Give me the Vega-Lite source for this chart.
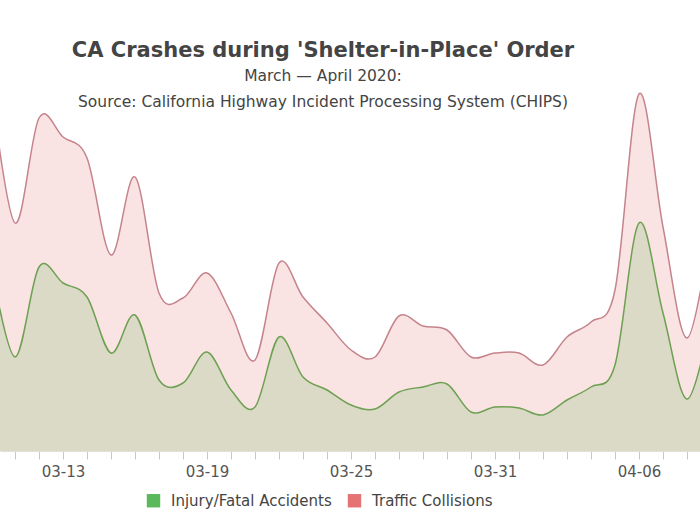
{
  "$schema": "https://vega.github.io/schema/vega-lite/v6.json",
  "autosize": {"type": "none"},
  "width": 700,
  "height": 330,
  "padding": {"top": 121, "left": 0, "right": 0, "bottom": 74},
  "background": "white",
  "title": {
    "text": "CA Crashes during 'Shelter-in-Place' Order",
    "subtitle": ["March — April 2020:", "Source: California Highway Incident Processing System (CHIPS)"],
    "anchor": "middle",
    "frame": "group",
    "dx": -27,
    "offset": -27,
    "font": "DejaVu Sans",
    "fontSize": 21,
    "fontWeight": "bold",
    "color": "#444444",
    "subtitleFont": "DejaVu Sans",
    "subtitleFontSize": 15.5,
    "subtitleColor": "#444444",
    "subtitleLineHeight": 26,
    "subtitlePadding": 8
  },
  "data": {
    "values": [
      {"date": "2020-03-10", "series": "Traffic Collisions", "value": 730},
      {"date": "2020-03-11", "series": "Traffic Collisions", "value": 456},
      {"date": "2020-03-12", "series": "Traffic Collisions", "value": 666},
      {"date": "2020-03-13", "series": "Traffic Collisions", "value": 628},
      {"date": "2020-03-14", "series": "Traffic Collisions", "value": 586},
      {"date": "2020-03-15", "series": "Traffic Collisions", "value": 392},
      {"date": "2020-03-16", "series": "Traffic Collisions", "value": 548},
      {"date": "2020-03-17", "series": "Traffic Collisions", "value": 316},
      {"date": "2020-03-18", "series": "Traffic Collisions", "value": 306},
      {"date": "2020-03-19", "series": "Traffic Collisions", "value": 356},
      {"date": "2020-03-20", "series": "Traffic Collisions", "value": 276},
      {"date": "2020-03-21", "series": "Traffic Collisions", "value": 182},
      {"date": "2020-03-22", "series": "Traffic Collisions", "value": 376},
      {"date": "2020-03-23", "series": "Traffic Collisions", "value": 308},
      {"date": "2020-03-24", "series": "Traffic Collisions", "value": 256},
      {"date": "2020-03-25", "series": "Traffic Collisions", "value": 202},
      {"date": "2020-03-26", "series": "Traffic Collisions", "value": 188},
      {"date": "2020-03-27", "series": "Traffic Collisions", "value": 270},
      {"date": "2020-03-28", "series": "Traffic Collisions", "value": 250},
      {"date": "2020-03-29", "series": "Traffic Collisions", "value": 242},
      {"date": "2020-03-30", "series": "Traffic Collisions", "value": 188},
      {"date": "2020-03-31", "series": "Traffic Collisions", "value": 196},
      {"date": "2020-04-01", "series": "Traffic Collisions", "value": 196},
      {"date": "2020-04-02", "series": "Traffic Collisions", "value": 172},
      {"date": "2020-04-03", "series": "Traffic Collisions", "value": 228},
      {"date": "2020-04-04", "series": "Traffic Collisions", "value": 258},
      {"date": "2020-04-05", "series": "Traffic Collisions", "value": 322},
      {"date": "2020-04-06", "series": "Traffic Collisions", "value": 714},
      {"date": "2020-04-07", "series": "Traffic Collisions", "value": 448},
      {"date": "2020-04-08", "series": "Traffic Collisions", "value": 226},
      {"date": "2020-04-09", "series": "Traffic Collisions", "value": 448},
      {"date": "2020-03-10", "series": "Injury/Fatal Accidents", "value": 375},
      {"date": "2020-03-11", "series": "Injury/Fatal Accidents", "value": 188},
      {"date": "2020-03-12", "series": "Injury/Fatal Accidents", "value": 368},
      {"date": "2020-03-13", "series": "Injury/Fatal Accidents", "value": 336},
      {"date": "2020-03-14", "series": "Injury/Fatal Accidents", "value": 308},
      {"date": "2020-03-15", "series": "Injury/Fatal Accidents", "value": 196},
      {"date": "2020-03-16", "series": "Injury/Fatal Accidents", "value": 272},
      {"date": "2020-03-17", "series": "Injury/Fatal Accidents", "value": 142},
      {"date": "2020-03-18", "series": "Injury/Fatal Accidents", "value": 136},
      {"date": "2020-03-19", "series": "Injury/Fatal Accidents", "value": 198},
      {"date": "2020-03-20", "series": "Injury/Fatal Accidents", "value": 122},
      {"date": "2020-03-21", "series": "Injury/Fatal Accidents", "value": 88},
      {"date": "2020-03-22", "series": "Injury/Fatal Accidents", "value": 228},
      {"date": "2020-03-23", "series": "Injury/Fatal Accidents", "value": 148},
      {"date": "2020-03-24", "series": "Injury/Fatal Accidents", "value": 122},
      {"date": "2020-03-25", "series": "Injury/Fatal Accidents", "value": 92},
      {"date": "2020-03-26", "series": "Injury/Fatal Accidents", "value": 84},
      {"date": "2020-03-27", "series": "Injury/Fatal Accidents", "value": 118},
      {"date": "2020-03-28", "series": "Injury/Fatal Accidents", "value": 128},
      {"date": "2020-03-29", "series": "Injury/Fatal Accidents", "value": 134},
      {"date": "2020-03-30", "series": "Injury/Fatal Accidents", "value": 78},
      {"date": "2020-03-31", "series": "Injury/Fatal Accidents", "value": 88},
      {"date": "2020-04-01", "series": "Injury/Fatal Accidents", "value": 86},
      {"date": "2020-04-02", "series": "Injury/Fatal Accidents", "value": 72},
      {"date": "2020-04-03", "series": "Injury/Fatal Accidents", "value": 102},
      {"date": "2020-04-04", "series": "Injury/Fatal Accidents", "value": 128},
      {"date": "2020-04-05", "series": "Injury/Fatal Accidents", "value": 172},
      {"date": "2020-04-06", "series": "Injury/Fatal Accidents", "value": 456},
      {"date": "2020-04-07", "series": "Injury/Fatal Accidents", "value": 276},
      {"date": "2020-04-08", "series": "Injury/Fatal Accidents", "value": 104},
      {"date": "2020-04-09", "series": "Injury/Fatal Accidents", "value": 266}
    ]
  },
  "encoding": {
    "x": {
      "field": "date",
      "type": "temporal",
      "title": null,
      "scale": {
        "type": "utc",
        "domain": [
          {"year": 2020, "month": 3, "date": 10, "hours": 9, "utc": true},
          {"year": 2020, "month": 4, "date": 8, "hours": 13, "utc": true}
        ],
        "nice": false
      },
      "axis": {
        "tickCount": {"interval": "day", "step": 1},
        "labelExpr": "(round((datum.value - utc(2020,2,13))/86400000) % 6 == 0) ? utcFormat(datum.value, '%m-%d') : ''",
        "labelOverlap": false,
        "labelFlush": false,
        "labelBound": false,
        "grid": false,
        "domain": true,
        "domainColor": "#e4e0d6",
        "domainWidth": 1,
        "tickColor": "#c8c8c8",
        "tickSize": 8,
        "labelFont": "DejaVu Sans",
        "labelFontSize": 15,
        "labelColor": "#555555",
        "labelPadding": 5
      }
    },
    "y": {
      "field": "value",
      "type": "quantitative",
      "scale": {"domain": [0, 660], "nice": false, "zero": true},
      "axis": null
    }
  },
  "layer": [
    {
      "transform": [{"filter": "datum.series == 'Traffic Collisions'"}],
      "mark": {"type": "area", "interpolate": "cardinal", "fillOpacity": 0.2},
      "encoding": {
        "color": {
          "field": "series",
          "type": "nominal",
          "scale": {"domain": ["Injury/Fatal Accidents", "Traffic Collisions"], "range": ["#5cb85c", "#e57373"]},
          "legend": {
            "orient": "none",
            "legendX": 146,
            "legendY": 372,
            "direction": "horizontal",
            "title": null,
            "symbolType": "square",
            "symbolSize": 180,
            "symbolOpacity": 1,
            "symbolStrokeWidth": 0,
            "labelFont": "DejaVu Sans",
            "labelFontSize": 15,
            "labelColor": "#444444",
            "labelLimit": 400,
            "labelOffset": 10,
            "columnPadding": 15
          }
        }
      }
    },
    {
      "transform": [{"filter": "datum.series == 'Injury/Fatal Accidents'"}],
      "mark": {"type": "area", "interpolate": "cardinal", "fillOpacity": 0.2},
      "encoding": {
        "color": {"field": "series", "type": "nominal"}
      }
    },
    {
      "mark": {"type": "line", "interpolate": "cardinal", "strokeWidth": 1.5},
      "encoding": {
        "stroke": {
          "field": "series",
          "type": "nominal",
          "scale": {"domain": ["Injury/Fatal Accidents", "Traffic Collisions"], "range": ["#6ea052", "#c5848c"]},
          "legend": null
        }
      }
    }
  ],
  "config": {"view": {"stroke": null}}
}
